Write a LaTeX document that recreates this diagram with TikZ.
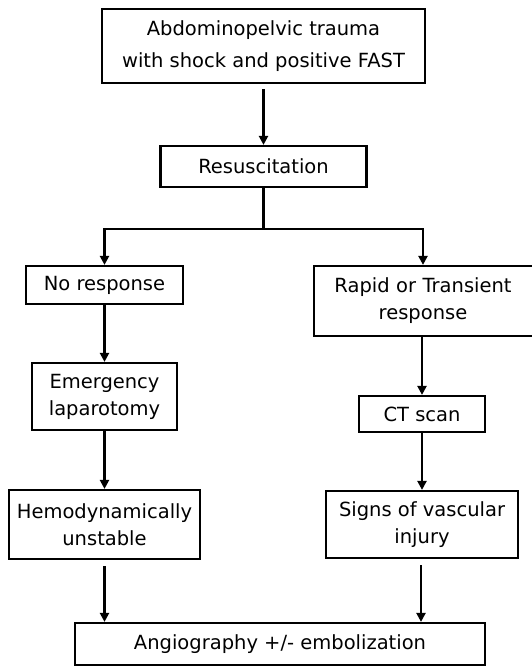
\documentclass[tikz,border=0pt]{standalone}
\usepackage{fontspec}
\setmainfont{DejaVu Sans}
\usetikzlibrary{arrows.meta}
\begin{document}
\begin{tikzpicture}[x=1pt,y=-1pt,
  box/.style={draw=black, line width=2.2pt, inner sep=0pt, align=center,
    font=\fontsize{19.5}{27}\selectfont},
  arr/.style={line width=2.2pt, -{Triangle[length=9pt,width=9pt]}},
  conn/.style={line width=2.2pt}]
\useasboundingbox (0,0) rectangle (531,666);
\node[box, minimum width=323pt, minimum height=74pt, font=\fontsize{19.5}{31.5}\selectfont] (top) at (263.5,46) {Abdominopelvic trauma\\with shock and positive FAST};
\node[box, minimum width=206pt, minimum height=41pt] (res) at (263.5,166.5) {Resuscitation};
\node[box, minimum width=157pt, minimum height=38pt] (nores) at (104.5,285) {No response};
\node[box, minimum width=230pt, minimum height=70pt, text width=218pt] (rapid) at (429,301) {\hspace*{-12pt}Rapid or Transient\\\hspace*{-12pt}response};
\node[box, minimum width=145pt, minimum height=67pt] (emerg) at (104.5,396.5) {Emergency\\laparotomy};
\node[box, minimum width=126pt, minimum height=36pt] (ct) at (422,414) {CT scan};
\node[box, minimum width=191pt, minimum height=69pt] (hemo) at (104.5,524.5) {Hemodynamically\\unstable};
\node[box, minimum width=192pt, minimum height=67pt] (signs) at (422,524.5) {Signs of vascular\\injury};
\node[box, minimum width=410pt, minimum height=42pt] (angio) at (280,644) {Angiography +/- embolization};
\coordinate (split) at (263.5,229);
\draw[arr, shorten <=5pt] (top.south) -- (res.north);
\draw[conn] (res.south) -- (split);
\draw[arr] (split) -| (nores.north);
\draw[arr] (split) -| ([xshift=-6pt]rapid.north);
\draw[arr] (nores.south) -- (emerg.north);
\draw[arr] (emerg.south) -- (hemo.north);
\draw[arr] (rapid.south -| ct.north) -- (ct.north);
\draw[arr] (ct.south) -- (signs.north);
\draw[arr, shorten <=6pt] (hemo.south) -- (hemo.south |- angio.north);
\draw[arr, shorten <=6pt] ([xshift=-1pt]signs.south) -- ([xshift=-1pt]signs.south |- angio.north);
\end{tikzpicture}
\end{document}
